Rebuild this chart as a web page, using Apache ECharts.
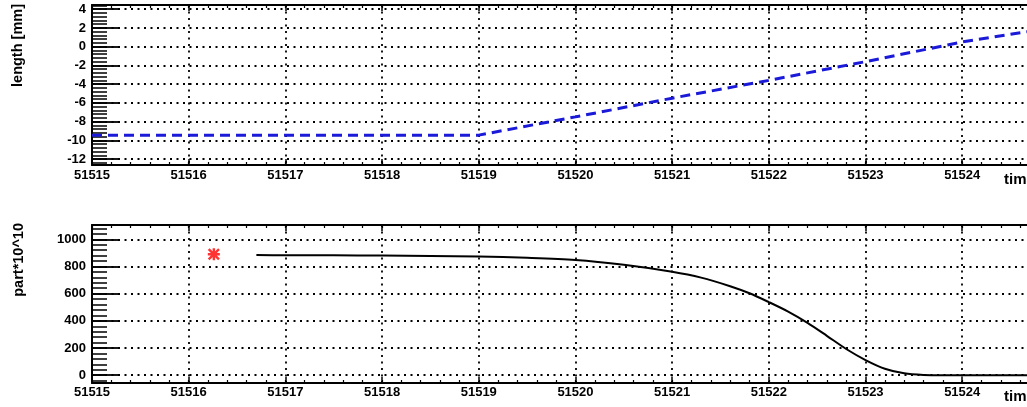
<!DOCTYPE html>
<html><head><meta charset="utf-8">
<script src="https://cdn.jsdelivr.net/npm/echarts@6/dist/echarts.min.js"></script>
<style>html,body{margin:0;padding:0;background:#fff;overflow:hidden}#c{width:1027px;height:407px}</style>
</head><body><div id="c"></div>
<script>
// ---- data ----
const timeTicks = [51515, 51516, 51517, 51518, 51519, 51520, 51521, 51522, 51523, 51524];
const lengthTicks = [-12, -10, -8, -6, -4, -2, 0, 2, 4];
const partTicks = [0, 200, 400, 600, 800, 1000];

const lengthTime   = [51515, 51519, 51520, 51521, 51522, 51523, 51524, 51524.67];
const lengthValues = [-9.45, -9.45, -7.5, -5.5, -3.6, -1.6, 0.5, 1.6];

const partTime   = [51516.7, 51517, 51517.5, 51518, 51518.5, 51519, 51519.5, 51520, 51520.5, 51521, 51521.3, 51521.6, 51521.8, 51522, 51522.2, 51522.4, 51522.6, 51522.8, 51523, 51523.2, 51523.4, 51523.6, 51523.8, 51524, 51524.67];
const partValues = [884, 883, 882, 880, 877, 873, 864, 848, 812, 761, 718, 655, 603, 538, 468, 385, 290, 193, 112, 48, 14, 2, 0, 0, 0];

const markerTime = [51516.26];
const markerValues = [890];

// ---- helpers ----
function range(a, step, n) { const r = []; for (let i = 0; i < n; i++) r.push(Math.round((a + step * i) * 1000) / 1000); return r; }
const timeMinor = range(51515, 0.2, 49);
const lengthMinor = range(-12.4, 0.4, 43);
const partMinor = range(-40, 40, 29);

const X_MIN = 51515, X_MAX = 51524.67;
const FONT = "'Liberation Sans', Arial, Helvetica, sans-serif";
const zip = (a, b) => a.map((v, i) => [v, b[i]]);
const GRID_LINE = { color: '#000', width: 1.8, type: [2, 4.5] };

function xAxesFor(g, labelMargin) {
  const base = { type: 'value', gridIndex: g, min: X_MIN, max: X_MAX, splitLine: { show: false }, axisLabel: { show: false }, axisLine: { show: false, onZero: false } };
  return [
    Object.assign({}, base, {
      position: 'bottom',
      axisLine: { show: true, onZero: false, lineStyle: { color: '#000', width: 2 } },
      axisTick: { show: true, inside: true, length: 6, customValues: timeTicks, lineStyle: { color: '#000', width: 1.5 } },
      axisLabel: { show: true, customValues: timeTicks, margin: labelMargin, color: '#000', fontSize: 13, fontWeight: 'bold', fontFamily: FONT, formatter: v => String(v) },
      splitLine: { show: true, lineStyle: GRID_LINE }
    }),
    Object.assign({}, base, { position: 'bottom', axisTick: { show: true, inside: true, length: 3, customValues: timeMinor, lineStyle: { color: '#000', width: 1.2 } } }),
    Object.assign({}, base, {
      position: 'top',
      axisLine: { show: true, onZero: false, lineStyle: { color: '#000', width: 2 } },
      axisTick: { show: true, inside: true, length: 6, customValues: timeTicks, lineStyle: { color: '#000', width: 1.5 } }
    }),
    Object.assign({}, base, { position: 'top', axisTick: { show: true, inside: true, length: 3, customValues: timeMinor, lineStyle: { color: '#000', width: 1.2 } } })
  ];
}

function yAxesFor(g, min, max, ticks, minor) {
  const base = { type: 'value', gridIndex: g, min: min, max: max, position: 'left', splitLine: { show: false }, axisLabel: { show: false }, axisLine: { show: false, onZero: false } };
  return [
    Object.assign({}, base, {
      axisLine: { show: true, onZero: false, lineStyle: { color: '#000', width: 2 } },
      axisTick: { show: true, inside: true, length: 28, customValues: ticks, lineStyle: { color: '#000', width: 1.8 } },
      axisLabel: { show: true, customValues: ticks, margin: 6, color: '#000', fontSize: 13, fontWeight: 'bold', fontFamily: FONT, formatter: v => String(v) },
      splitLine: { show: true, lineStyle: GRID_LINE }
    }),
    Object.assign({}, base, { axisTick: { show: true, inside: true, length: 15, customValues: minor, lineStyle: { color: '#000', width: 1.5 } } })
  ];
}

const asterisk = 'path://M0 40H100V60H0Z M40 0H60V100H40Z M14.14 0L100 85.86L85.86 100L0 14.14Z M85.86 0L100 14.14L14.14 100L0 85.86Z';

const chart = echarts.init(document.getElementById('c'), null, { renderer: 'canvas' });
chart.setOption({
  animation: false,
  backgroundColor: '#fff',
  grid: [
    { left: 92, top: 5, right: 0, height: 160 },
    { left: 92, top: 225, right: 0, height: 158 }
  ],
  xAxis: xAxesFor(0, 4).concat(xAxesFor(1, 3)),
  yAxis: yAxesFor(0, -12.64, 4.45, lengthTicks, lengthMinor).concat(yAxesFor(1, -57, 1105, partTicks, partMinor)),
  graphic: [
    { type: 'text', x: 17.5, y: 4, rotation: Math.PI / 2, style: { text: 'length [mm]', align: 'right', verticalAlign: 'middle', fill: '#000', font: 'bold 14.5px ' + FONT } },
    { type: 'text', x: 18.5, y: 223, rotation: Math.PI / 2, style: { text: 'part*10^10', align: 'right', verticalAlign: 'middle', fill: '#000', font: 'bold 14.5px ' + FONT } },
    { type: 'text', x: 1004, y: 180, style: { text: 'time', align: 'left', verticalAlign: 'middle', fill: '#000', font: 'bold 15px ' + FONT } },
    { type: 'text', x: 1004, y: 397, style: { text: 'time', align: 'left', verticalAlign: 'middle', fill: '#000', font: 'bold 15px ' + FONT } }
  ],
  series: [
    { type: 'line', xAxisIndex: 0, yAxisIndex: 0, data: zip(lengthTime, lengthValues), showSymbol: false, lineStyle: { color: '#1a1ad8', width: 3, type: [10, 6] } },
    { type: 'line', xAxisIndex: 4, yAxisIndex: 2, data: zip(partTime, partValues), showSymbol: false, smooth: 0.3, lineStyle: { color: '#000', width: 2 } },
    { type: 'scatter', xAxisIndex: 4, yAxisIndex: 2, data: zip(markerTime, markerValues), symbol: asterisk, symbolSize: 12, itemStyle: { color: '#ff0000' } }
  ]
});
</script>
</body></html>
